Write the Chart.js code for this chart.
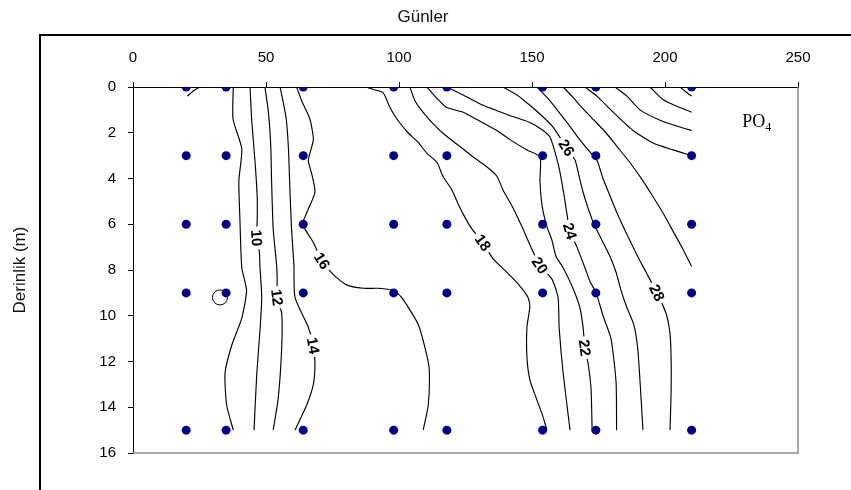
<!DOCTYPE html>
<html>
<head>
<meta charset="utf-8">
<script src="https://cdn.jsdelivr.net/npm/chart.js@4.4.1/dist/chart.umd.min.js"></script>
<style>
  html, body { margin: 0; padding: 0; background: #fff; }
  #wrap { width: 851px; height: 490px; }
</style>
</head>
<body>
<div id="wrap"><canvas id="chartPO4" width="851" height="490"></canvas></div>
<script>
// sampling stations: days and depths (m)
var stationDays = [20, 35, 64, 98, 118, 154, 174, 210];
var stationDepths = [0, 3, 6, 9, 15];
var markedSample = [32.7, 9.2];

var xTicks = [0, 50, 100, 150, 200, 250];
var yTicks = [0, 2, 4, 6, 8, 10, 12, 14, 16];

// contour lines, [day, depth]
var line06 = [[25.2,0],[22.9,0.15],[20.4,0.4]];
var line08 = [[37.7,0],[37.6,1.4],[40.9,2.7],[39.8,4.1],[40.2,5.8],[40.9,7.9],[42.7,8.9],[40.9,10.1],[37.1,11.3],[34.6,12.5],[35.2,13.9],[37.7,15]];
var line10 = [[44,0],[44.6,1.4],[45.9,3.3],[46.7,4.8],[46.7,5.8],[46.5,6.6],[47.5,7.2],[47.7,7.8],[48.4,9.2],[47.7,10.7],[46.5,12.6],[45.5,15]];
var line12 = [[49.6,0],[50.9,1.1],[51.8,2.6],[52.1,4.1],[52.7,6.2],[54,7.8],[54.2,8.4],[54.2,9.2],[55.9,9.9],[55.9,11.4],[54.6,13.6],[52.7,15]];
var line14 = [[55.3,0],[57.5,1.3],[58.4,2.6],[59,4.5],[59.6,6.2],[60.5,7.8],[60.9,9.2],[65.9,10.5],[67.8,11.3],[68.4,12.1],[67.8,13],[65.3,13.9],[60.9,15]];
var line16 = [[61.5,0],[63.4,0.6],[66.5,1.4],[67.8,2.3],[65.9,3.2],[67.2,3.8],[68.4,4.6],[65.3,5.5],[63.8,6],[67.8,6.8],[71.1,7.6],[75.3,8.2],[80.3,8.65],[86.6,8.8],[92.2,8.8],[97.9,8.9],[101,9.2],[107.3,10.4],[110.4,11.7],[111.4,12.4],[111,13.9],[109.1,15]];
var line18 = [[87.6,0],[90.2,0.1],[94,0.25],[96.6,0.9],[99.2,1.4],[103.4,2],[107.1,2.4],[110.5,2.9],[114.3,3.3],[116.5,3.9],[119.9,4.5],[122.2,5.1],[124.8,5.7],[127.4,6.2],[131.6,6.8],[135.3,7.5],[140.6,8.1],[144.7,8.6],[148.5,9.2],[149.2,9.6],[148.1,10.5],[148.1,11.8],[149.2,12.8],[151.9,13.7],[154.1,14.4],[155.6,15]];
var line20 = [[104.1,0],[106,0.6],[109,1.1],[112.8,1.6],[117.3,2.1],[122.9,2.6],[127.8,3.05],[133.1,3.5],[136.8,3.9],[139.1,4.5],[142.5,5.2],[146.2,6.1],[150,7.1],[153,7.8],[157.5,8.4],[159.8,9.2],[160.2,10.5],[161.7,12.5],[164.3,15]];
var line22 = [[110.5,0],[114.3,0.5],[118,0.9],[124.1,1.1],[130.5,1.5],[136.8,1.9],[141.7,2.3],[148.1,2.75],[153,3.05],[153,4.1],[153.8,5.2],[155.6,6.1],[157.5,6.7],[159,7.4],[161.7,7.9],[165.4,8.8],[168,9.65],[169.2,10.5],[169.9,11.4],[171.1,12.1],[172.2,13.2],[172.6,15]];
var line24 = [[118,0],[124.1,0.35],[131.6,0.8],[140.6,1.2],[149.2,1.55],[154.2,1.9],[156.8,2.2],[158.4,2.75],[160.3,3.6],[162,4.7],[163.2,5.6],[164.3,6.3],[166.9,7],[169.9,7.9],[171.8,8.5],[174.1,9],[176.7,10],[179.7,11],[181.6,12.9],[181.8,15]];
var line26 = [[139.1,0],[144.4,0.35],[149.2,0.8],[154.1,1.3],[157.9,1.75],[160.5,2.2],[163,2.65],[166.2,3.2],[167.7,3.9],[169.2,4.6],[171.1,5.3],[173.3,6],[176.3,6.7],[179.3,7.4],[181.6,8.1],[183.5,8.9],[185.7,9.65],[188.3,10.4],[189.8,11.5],[191,13.6],[191.7,15]];
var line28 = [[151.9,0],[156,0.5],[159.8,1.05],[163.5,1.6],[167.3,2.2],[171.1,2.75],[174.4,3.2],[176.7,4],[179.3,4.75],[182.3,5.6],[185.7,6.45],[189.5,7.35],[192.9,8.1],[197,9],[200.4,9.9],[201.9,10.8],[202.3,11.9],[202.3,13.3],[201.9,15]];
var line30 = [[161.7,0],[165,0.4],[168.8,0.9],[173.3,1.45],[177.8,2],[182.3,2.65],[186.8,3.3],[191.4,4.05],[195.5,4.8],[199.2,5.5],[203,6.3],[206.8,7.1],[210,7.85]];
var line32 = [[169.9,0],[174.4,0.4],[180.5,1.1],[188,1.9],[195.5,2.45],[203,2.75],[210,3]];
var line34 = [[181.2,0],[185.7,0.4],[190.6,1],[198.1,1.45],[205.6,1.75],[210,1.9]];
var line36 = [[194.4,0],[199.2,0.55],[205.6,0.9],[210,1.1]];
var line38 = [[205.6,0],[208.3,0.25],[210,0.4]];

// contour labels: text, day, depth
var labelTexts = ['10', '12', '14', '16', '18', '20', '22', '24', '26', '28'];
var labelDays = [46.5, 54.2, 67.8, 71.1, 131.6, 153, 169.9, 164.3, 163, 197];
var labelDepths = [6.6, 9.2, 11.3, 7.6, 6.8, 7.8, 11.4, 6.3, 2.65, 9];
var labelLines = [line10, line12, line14, line16, line18, line20, line22, line24, line26, line28];

var contours = [line06, line08, line10, line12, line14, line16, line18, line20, line22, line24, line26, line28, line30, line32, line34, line36, line38];

var stationPoints = [];
stationDays.forEach(function (d) {
  stationDepths.forEach(function (z) {
    stationPoints.push({ x: d, y: z });
  });
});

var datasets = [
  {
    label: 'Istasyonlar',
    data: stationPoints,
    pointRadius: 4.5,
    pointBackgroundColor: '#000080',
    pointBorderWidth: 0,
    showLine: false,
    order: 0
  },
  {
    label: 'isaret',
    data: [{ x: markedSample[0], y: markedSample[1] }],
    pointRadius: 7.5,
    pointBackgroundColor: 'rgba(0,0,0,0)',
    pointBorderColor: '#000',
    pointBorderWidth: 1,
    showLine: false,
    order: 1
  }
];

contours.forEach(function (pts) {
  datasets.push({
    data: pts.map(p => ({ x: p[0], y: p[1] })),
    showLine: true,
    borderColor: '#000',
    borderWidth: 1.15,
    pointRadius: 0,
    tension: 0.2,
    order: 2
  });
});

var fontFam = '"Liberation Sans", Arial, sans-serif';

var extras = {
  id: 'extras',
  afterDatasetsDraw: function (chart) {
    var ctx = chart.ctx;
    var xs = chart.scales.x, ys = chart.scales.y;
    ctx.save();
    ctx.font = 'bold 15px ' + fontFam;
    ctx.textAlign = 'center';
    ctx.textBaseline = 'middle';
    labelTexts.forEach(function (txt, i) {
      var pts = labelLines[i];
      var k = 0, best = 1e9;
      pts.forEach(function (p, j) {
        var dd = Math.abs(p[0] - labelDays[i]) + Math.abs(p[1] - labelDepths[i]);
        if (dd < best) { best = dd; k = j; }
      });
      var a = pts[Math.max(k - 1, 0)], b = pts[Math.min(k + 1, pts.length - 1)];
      var ang = Math.atan2(ys.getPixelForValue(b[1]) - ys.getPixelForValue(a[1]),
                           xs.getPixelForValue(b[0]) - xs.getPixelForValue(a[0]));
      if (ang > Math.PI / 2) ang -= Math.PI;
      if (ang < -Math.PI / 2) ang += Math.PI;
      var px = xs.getPixelForValue(labelDays[i]);
      var py = ys.getPixelForValue(labelDepths[i]);
      var w = ctx.measureText(txt).width;
      ctx.save();
      ctx.translate(px, py);
      ctx.rotate(ang);
      ctx.fillStyle = '#fff';
      ctx.fillRect(-w / 2 - 3, -6, w + 6, 12);
      ctx.fillStyle = '#000';
      ctx.fillText(txt, 0, 1);
      ctx.restore();
    });

    // PO4 note
    var nx = xs.getPixelForValue(229), ny = ys.getPixelForValue(1.75);
    ctx.textAlign = 'left';
    ctx.textBaseline = 'alphabetic';
    ctx.fillStyle = '#000';
    ctx.font = '18px "Liberation Serif", "Times New Roman", serif';
    ctx.fillText('PO', nx, ny);
    var pw = ctx.measureText('PO').width;
    ctx.font = '12px "Liberation Serif", "Times New Roman", serif';
    ctx.fillText('4', nx + pw, ny + 4);
    ctx.restore();
  },
  afterDraw: function (chart) {
    var ctx = chart.ctx;
    var area = chart.chartArea;
    ctx.save();
    // plot area right / bottom border
    ctx.strokeStyle = '#8c8c8c';
    ctx.lineWidth = 1.5;
    ctx.beginPath();
    ctx.moveTo(area.right, area.top);
    ctx.lineTo(area.right, area.bottom);
    ctx.lineTo(area.left, area.bottom);
    ctx.stroke();
    // outer frame
    ctx.strokeStyle = '#000';
    ctx.lineWidth = 2;
    ctx.beginPath();
    ctx.moveTo(40, 495);
    ctx.lineTo(40, 35);
    ctx.lineTo(860, 35);
    ctx.stroke();
    // axis titles
    ctx.fillStyle = '#111';
    ctx.font = '17px ' + fontFam;
    ctx.textAlign = 'center';
    ctx.textBaseline = 'middle';
    ctx.fillText('Günler', 423, 17);
    ctx.translate(20, 270);
    ctx.rotate(-Math.PI / 2);
    ctx.fillText('Derinlik (m)', 0, 0);
    ctx.restore();
  }
};

new Chart(document.getElementById('chartPO4'), {
  type: 'scatter',
  data: { datasets: datasets },
  options: {
    responsive: false,
    animation: false,
    layout: { padding: { left: 0, top: 0, right: 53, bottom: 37 } },
    plugins: {
      legend: { display: false },
      tooltip: { enabled: false }
    },
    scales: {
      x: {
        type: 'linear',
        position: 'top',
        min: 0,
        max: 250,
        afterBuildTicks: function (s) { s.ticks = xTicks.map(v => ({ value: v })); },
        afterFit: function (s) { s.height = 87; },
        ticks: { color: '#000', padding: 15, font: { family: fontFam, size: 15 } },
        grid: { drawOnChartArea: false, tickLength: 5, color: '#000' },
        border: { color: '#000', width: 1 }
      },
      y: {
        type: 'linear',
        reverse: true,
        min: 0,
        max: 16,
        afterBuildTicks: function (s) { s.ticks = yTicks.map(v => ({ value: v })); },
        afterFit: function (s) { s.width = 133; },
        ticks: { color: '#000', padding: 12, font: { family: fontFam, size: 15 } },
        grid: { drawOnChartArea: false, tickLength: 5, color: '#000' },
        border: { color: '#000', width: 1 }
      }
    }
  },
  plugins: [extras]
});
</script>
</body>
</html>
